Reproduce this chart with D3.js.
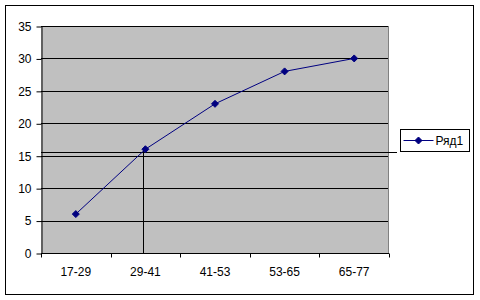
<!DOCTYPE html>
<html>
<head>
<meta charset="utf-8">
<script src="https://cdn.jsdelivr.net/npm/d3@7"></script>
<style>
  body { margin: 0; background: #fff; }
  svg text { font-family: "Liberation Sans", Arial, sans-serif; font-size: 12px; fill: #000; }
</style>
</head>
<body>
<svg id="chart" width="480" height="300"></svg>
<script>
//Categories along the x axis
var categories = ["17-29", "29-41", "41-53", "53-65", "65-77"];
//Values of the single series
var seriesValues = [6, 16, 23, 28, 30];
var seriesName = "Ряд1";
//Y tick labels
var yTicks = [0, 5, 10, 15, 20, 25, 30, 35];
//Hand drawn guide lines: horizontal level and the category of the vertical drop
var guideLevel = 15.5;
var guideCategory = "29-41";

var svg = d3.select("#chart");

//Outer chart frame
svg.append("rect")
  .attr("x", 5.5).attr("y", 5.5)
  .attr("width", 468).attr("height", 289)
  .attr("fill", "#fff").attr("stroke", "#000").attr("stroke-width", 1);

var x = d3.scaleBand().domain(categories).range([41, 389]);
var y = d3.scaleLinear().domain([0, 35]).range([253, 26]);

//Grey plot area
svg.append("rect")
  .attr("x", 41).attr("y", 26)
  .attr("width", 348).attr("height", 227)
  .attr("fill", "#c0c0c0");

//Gridlines
svg.append("g")
  .selectAll("line")
  .data(yTicks.filter(function(d) { return d > 0; }))
  .enter().append("line")
  .attr("x1", 41).attr("x2", 389)
  .attr("y1", function(d) { return Math.round(y(d)) + 0.5; })
  .attr("y2", function(d) { return Math.round(y(d)) + 0.5; })
  .attr("stroke", "#000");

//Right/top border of plot area
svg.append("line")
  .attr("x1", 388.5).attr("x2", 388.5).attr("y1", 26).attr("y2", 253)
  .attr("stroke", "#808080");

//Y axis
var yAxis = svg.append("g")
  .attr("transform", "translate(41.5,0.5)")
  .call(d3.axisLeft(y).tickValues(yTicks).tickSize(5).tickPadding(5).tickSizeOuter(0));
yAxis.select(".domain").attr("stroke", "#000");
yAxis.selectAll(".tick line").attr("stroke", "#000");
yAxis.selectAll("text").style("font-size", "12px");

//X axis with ticks between categories
var xAxis = svg.append("g")
  .attr("transform", "translate(0,253.5)");
xAxis.append("line")
  .attr("x1", 41).attr("x2", 389).attr("stroke", "#000");
xAxis.selectAll(".sep")
  .data(d3.range(categories.length + 1))
  .enter().append("line")
  .attr("class", "sep")
  .attr("x1", function(i) { return Math.round(41 + i * x.step()) + 0.5; })
  .attr("x2", function(i) { return Math.round(41 + i * x.step()) + 0.5; })
  .attr("y1", 0).attr("y2", 4)
  .attr("stroke", "#000");
xAxis.selectAll(".lbl")
  .data(categories)
  .enter().append("text")
  .attr("class", "lbl")
  .attr("x", function(d) { return x(d) + x.bandwidth() / 2; })
  .attr("y", 19)
  .attr("dy", "0.32em")
  .attr("text-anchor", "middle")
  .text(function(d) { return d; });

//Guide lines drawn over the chart
svg.append("line")
  .attr("x1", 41).attr("x2", 397)
  .attr("y1", Math.round(y(guideLevel)) + 0.5)
  .attr("y2", Math.round(y(guideLevel)) + 0.5)
  .attr("stroke", "#000");
svg.append("line")
  .attr("x1", Math.round(x(guideCategory) + x.bandwidth() / 2) - 1.5)
  .attr("x2", Math.round(x(guideCategory) + x.bandwidth() / 2) - 1.5)
  .attr("y1", y(seriesValues[categories.indexOf(guideCategory)]))
  .attr("y2", 253)
  .attr("stroke", "#000");

//Series line
var points = categories.map(function(c, i) { return [x(c) + x.bandwidth() / 2, y(seriesValues[i])]; });
svg.append("path")
  .attr("d", d3.line()(points))
  .attr("fill", "none")
  .attr("stroke", "#000080")
  .attr("stroke-width", 1);

var diamond = "M0,-3.5L3.5,0L0,3.5L-3.5,0Z";
svg.append("g")
  .selectAll("path")
  .data(points)
  .enter().append("path")
  .attr("d", diamond)
  .attr("transform", function(d) { return "translate(" + d[0] + "," + d[1] + ")"; })
  .attr("fill", "#000080")
  .attr("stroke", "#000080");

//Legend
var legend = svg.append("g").attr("transform", "translate(400.5,129.5)");
legend.append("rect")
  .attr("width", 69).attr("height", 22)
  .attr("fill", "#fff").attr("stroke", "#000");
legend.append("line")
  .attr("x1", 3).attr("x2", 33).attr("y1", 11).attr("y2", 11)
  .attr("stroke", "#000080");
legend.append("path")
  .attr("d", diamond)
  .attr("transform", "translate(18,11)")
  .attr("fill", "#000080").attr("stroke", "#000080");
legend.append("text")
  .attr("x", 35).attr("y", 11).attr("dy", "0.35em")
  .text(seriesName);
</script>
</body>
</html>
